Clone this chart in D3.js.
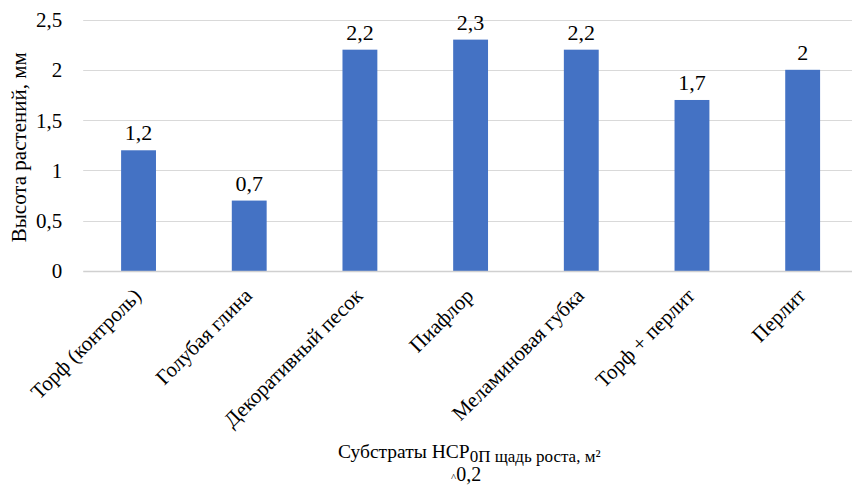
<!DOCTYPE html>
<html>
<head>
<meta charset="utf-8">
<script src="https://cdn.jsdelivr.net/npm/d3@7"></script>
<style>
  html, body { margin: 0; padding: 0; background: #fff; }
  svg { display: block; }
</style>
</head>
<body>
<svg id="chart" width="852" height="486"></svg>
<script>
// Substrates and measured plant heights (mm)
const categories = [
  "Торф (контроль)",
  "Голубая глина",
  "Декоративный песок",
  "Пиафлор",
  "Меламиновая губка",
  "Торф + перлит",
  "Перлит"
];
const heights = [1.2, 0.7, 2.2, 2.3, 2.2, 1.7, 2];
const yTicks = [0, 0.5, 1, 1.5, 2, 2.5];

const fmt = v => String(v).replace(".", ",");
const SERIF = "'Liberation Serif'";

const svg = d3.select("#chart");
const plotLeft = 83.2, plotRight = 858, plotTop = 19.5, plotBottom = 271;

const x = d3.scaleBand()
  .domain(categories)
  .range([plotLeft, plotRight])
  .paddingInner(0.685)
  .paddingOuter(0.3425);

const y = d3.scaleLinear().domain([0, 2.5]).range([plotBottom, plotTop]);

// horizontal gridlines
svg.append("g")
  .selectAll("line")
  .data(yTicks.filter(t => t > 0))
  .join("line")
  .attr("x1", plotLeft).attr("x2", 852)
  .attr("y1", d => Math.round(y(d)) + 0.5).attr("y2", d => Math.round(y(d)) + 0.5)
  .attr("stroke", "#d9d9d9").attr("stroke-width", 1);

// y axis tick labels
const yAxis = d3.axisLeft(y).tickValues(yTicks).tickFormat(fmt).tickSize(0).tickPadding(0);
const ya = svg.append("g").attr("transform", `translate(${plotLeft - 21},0)`).call(yAxis);
ya.select(".domain").remove();
ya.selectAll("text")
  .style("font-family", SERIF)
  .style("font-size", "21px")
  .attr("fill", "#000")
  .attr("dy", "0.33em");

// bars
svg.append("g")
  .selectAll("rect")
  .data(categories)
  .join("rect")
  .attr("x", d => x(d))
  .attr("width", x.bandwidth())
  .attr("y", (d, i) => y(heights[i]))
  .attr("height", (d, i) => y(0) - y(heights[i]))
  .attr("fill", "#4472c4");

// baseline
svg.append("line")
  .attr("x1", plotLeft).attr("x2", 852)
  .attr("y1", plotBottom + 0.5).attr("y2", plotBottom + 0.5)
  .attr("stroke", "#d0d0d0").attr("stroke-width", 1.5);

// value labels
svg.append("g")
  .selectAll("text")
  .data(categories)
  .join("text")
  .attr("x", d => x(d) + x.bandwidth() / 2)
  .attr("y", (d, i) => y(heights[i]) - 10)
  .attr("text-anchor", "middle")
  .style("font-family", SERIF)
  .style("font-size", "22px")
  .text((d, i) => fmt(heights[i]));

// category labels, rotated
svg.append("g")
  .selectAll("text")
  .data(categories)
  .join("text")
  .attr("transform", d => `translate(${x(d) + x.bandwidth() / 2 + 4},${plotBottom + 26}) rotate(-45)`)
  .attr("text-anchor", "end")
  .style("font-family", SERIF)
  .style("font-size", "21px")
  .text(d => d);

// y axis title
svg.append("text")
  .attr("transform", `translate(26,${(plotTop + plotBottom) / 2 + 2}) rotate(-90)`)
  .attr("text-anchor", "middle")
  .style("font-family", SERIF)
  .style("font-size", "21px")
  .text("Высота растений, мм");

// x axis title
const xt = svg.append("text").attr("x", 338).attr("y", 458)
  .style("font-family", SERIF).style("font-size", "19.5px");
xt.append("tspan").text("Субстраты НСР");
xt.append("tspan").style("font-size", "17px").attr("dy", 4).text("0П щадь роста, м²");

const xt2 = svg.append("text").attr("x", 451).attr("y", 481)
  .style("font-family", SERIF).style("font-size", "20px");
xt2.append("tspan").style("font-size", "11px").text("^");
xt2.append("tspan").text("0,2");
</script>
</body>
</html>
